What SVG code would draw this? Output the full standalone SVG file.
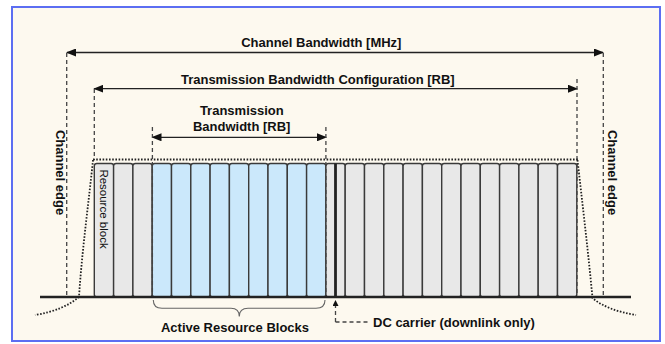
<svg xmlns="http://www.w3.org/2000/svg" width="665" height="344" viewBox="0 0 665 344">
<style>
.t{font-family:"Liberation Sans",Arial,sans-serif;font-weight:bold;font-size:13px;fill:#111}
.r{font-family:"Liberation Sans",Arial,sans-serif;font-size:11.5px;fill:#111}
.dash{fill:none;stroke:#444;stroke-width:1.3;stroke-dasharray:4 3}
.dot{fill:none;stroke:#222;stroke-width:1.8;stroke-dasharray:1.6 1.6}
.arr{fill:none;stroke:#222;stroke-width:1.3}
.g{fill:#e8e8e8;stroke:#3a3a3a;stroke-width:1.4}
.b{fill:#cbe8fb;stroke:#3a3a3a;stroke-width:1.4}
</style>
<defs>
<marker id="ah" markerUnits="userSpaceOnUse" markerWidth="10" markerHeight="8" refX="9" refY="4" orient="auto-start-reverse">
<path d="M0,0 L10,4 L0,8 z" fill="#111"/>
</marker>
<marker id="ahs" markerUnits="userSpaceOnUse" markerWidth="6" markerHeight="6" refX="5" refY="3" orient="auto">
<path d="M0,0 L6,3 L0,6 z" fill="#111"/>
</marker>
</defs>
<rect x="0" y="0" width="665" height="344" fill="#ffffff"/>
<rect x="12" y="7" width="648" height="334" fill="#fdf9ef" stroke="#5c6ef2" stroke-width="2"/>

<g id="labels">
<text class="t" x="321.3" y="46.7" text-anchor="middle">Channel Bandwidth [MHz]</text>
<text class="t" x="317.8" y="84.3" text-anchor="middle">Transmission Bandwidth Configuration [RB]</text>
<text class="t" x="241.8" y="115" text-anchor="middle">Transmission</text>
<text class="t" x="241.7" y="131" text-anchor="middle">Bandwidth [RB]</text>
<text class="t" x="235" y="331.7" text-anchor="middle">Active Resource Blocks</text>
<text class="t" x="373" y="326.5">DC carrier (downlink only)</text>
<text class="t" transform="translate(55.5,172.5) rotate(90)" text-anchor="middle">Channel edge</text>
<text class="t" transform="translate(607.5,172.5) rotate(90)" text-anchor="middle">Channel edge</text>
</g>

<g id="blocks">
<rect class="g" x="94.3" y="163.5" width="19.3" height="133.5" rx="2.5"/>
<rect class="g" x="113.6" y="163.5" width="19.3" height="133.5" rx="2.5"/>
<rect class="g" x="132.9" y="163.5" width="19.3" height="133.5" rx="2.5"/>
<rect class="b" x="152.2" y="163.5" width="19.3" height="133.5" rx="2.5"/>
<rect class="b" x="171.5" y="163.5" width="19.3" height="133.5" rx="2.5"/>
<rect class="b" x="190.8" y="163.5" width="19.3" height="133.5" rx="2.5"/>
<rect class="b" x="210.1" y="163.5" width="19.3" height="133.5" rx="2.5"/>
<rect class="b" x="229.4" y="163.5" width="19.3" height="133.5" rx="2.5"/>
<rect class="b" x="248.7" y="163.5" width="19.3" height="133.5" rx="2.5"/>
<rect class="b" x="268.0" y="163.5" width="19.3" height="133.5" rx="2.5"/>
<rect class="b" x="287.3" y="163.5" width="19.3" height="133.5" rx="2.5"/>
<rect class="b" x="306.6" y="163.5" width="19.3" height="133.5" rx="2.5"/>
<rect class="g" x="325.9" y="163.5" width="19.3" height="133.5" rx="2.5"/>
<rect class="g" x="345.2" y="163.5" width="19.3" height="133.5" rx="2.5"/>
<rect class="g" x="364.5" y="163.5" width="19.3" height="133.5" rx="2.5"/>
<rect class="g" x="383.8" y="163.5" width="19.3" height="133.5" rx="2.5"/>
<rect class="g" x="403.1" y="163.5" width="19.3" height="133.5" rx="2.5"/>
<rect class="g" x="422.4" y="163.5" width="19.3" height="133.5" rx="2.5"/>
<rect class="g" x="441.7" y="163.5" width="19.3" height="133.5" rx="2.5"/>
<rect class="g" x="461.0" y="163.5" width="19.3" height="133.5" rx="2.5"/>
<rect class="g" x="480.3" y="163.5" width="19.3" height="133.5" rx="2.5"/>
<rect class="g" x="499.6" y="163.5" width="19.3" height="133.5" rx="2.5"/>
<rect class="g" x="518.9" y="163.5" width="19.3" height="133.5" rx="2.5"/>
<rect class="g" x="538.2" y="163.5" width="19.3" height="133.5" rx="2.5"/>
<rect class="g" x="557.5" y="163.5" width="19.3" height="133.5" rx="2.5"/>
<line x1="335.5" y1="163.5" x2="335.5" y2="297" stroke="#222" stroke-width="2.8"/>
<text class="r" transform="translate(100,209) rotate(90)" text-anchor="middle">Resource block</text>
</g>

<g id="connectors">
<line class="arr" x1="67" y1="52.5" x2="603" y2="52.5" marker-start="url(#ah)" marker-end="url(#ah)"/>
<line class="arr" x1="94.3" y1="88.7" x2="577" y2="88.7" marker-start="url(#ah)" marker-end="url(#ah)"/>
<line class="arr" x1="152.5" y1="137.3" x2="326" y2="137.3" marker-start="url(#ah)" marker-end="url(#ah)"/>
<line class="dash" x1="66.7" y1="53" x2="66.7" y2="297"/>
<line class="dash" x1="603.3" y1="53" x2="603.3" y2="297"/>
<line class="dash" x1="94.3" y1="89" x2="94.3" y2="160"/>
<line class="dash" x1="577" y1="79" x2="577" y2="297"/>
<line class="dash" x1="152.4" y1="127" x2="152.4" y2="297"/>
<line class="dash" x1="325.9" y1="127" x2="325.9" y2="297"/>
<line class="dot" x1="93" y1="159.5" x2="578" y2="159.5"/>
<path class="dot" d="M93,160 C89,200 82,250 79,297 C68,306 54,312 35,315"/>
<path class="dot" d="M577.5,160 C582,200 588,250 592.5,298 C603,307 618,312 636,315"/>
<line x1="40" y1="297" x2="631" y2="297" stroke="#222" stroke-width="2.4"/>
<path d="M153.3,300 Q153.3,308.3 162,308.3 L231,308.3 Q239.3,308.3 239.3,316.5 Q239.3,308.3 248,308.3 L316,308.3 Q325,308.3 325,300" fill="none" stroke="#666" stroke-width="1.1"/>
<line class="dash" x1="335.5" y1="322" x2="335.5" y2="301" marker-end="url(#ahs)"/>
<line class="dash" x1="335.5" y1="322" x2="368" y2="322"/>
</g>
</svg>
